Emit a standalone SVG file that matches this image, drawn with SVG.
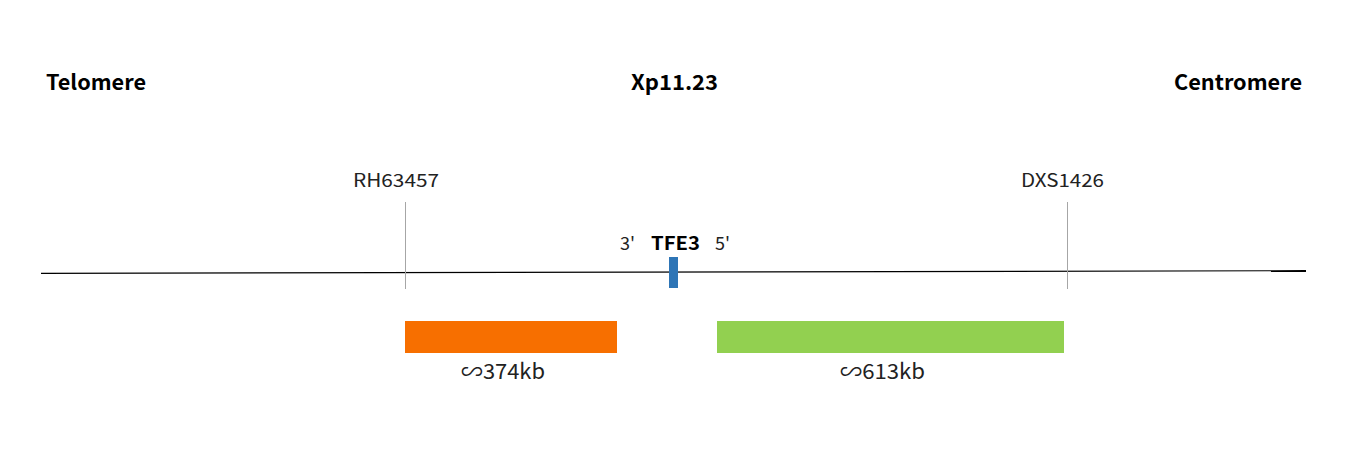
<svg xmlns="http://www.w3.org/2000/svg" width="1350" height="450" viewBox="0 0 1350 450">
<style>
text{font-family:"Noto Sans CJK SC","Noto Sans",sans-serif;fill:#000}
.title{font-size:21px;font-weight:bold}
.marker{font-size:18px;fill:#222}
.size{font-size:21px;fill:#222}
.tick{stroke:#a6a6a6;stroke-width:1}
</style>
<rect width="1350" height="450" fill="#fff"/>
<g id="labels">
<text class="title" x="46" y="90" textLength="100" lengthAdjust="spacingAndGlyphs">Telomere</text>
<text class="title" x="631" y="90" textLength="87" lengthAdjust="spacingAndGlyphs">Xp11.23</text>
<text class="title" x="1174" y="90" textLength="128" lengthAdjust="spacingAndGlyphs">Centromere</text>
</g>
<g id="connectors">
<path d="M41 273.3 L1306 270.7" fill="none" stroke="#000" stroke-width="1.2"/>
<line class="tick" x1="405.5" y1="202" x2="405.5" y2="289"/>
<line class="tick" x1="1067.5" y1="202" x2="1067.5" y2="289"/>
</g>
<g id="RH63457"><text class="marker" x="353" y="187" textLength="86" lengthAdjust="spacingAndGlyphs">RH63457</text></g>
<g id="DXS1426"><text class="marker" x="1021" y="187" textLength="83" lengthAdjust="spacingAndGlyphs">DXS1426</text></g>
<g id="TFE3">
<rect x="669" y="257" width="9" height="31" fill="#2e75b6"/>
<text class="marker" x="620" y="250" textLength="15" lengthAdjust="spacingAndGlyphs">3'</text>
<text x="651" y="250" textLength="49" lengthAdjust="spacingAndGlyphs" style="font-size:19px;font-weight:bold">TFE3</text>
<text class="marker" x="715" y="250" textLength="15" lengthAdjust="spacingAndGlyphs">5'</text>
</g>
<g id="orange">
<rect x="405" y="321" width="212" height="32" fill="#f76f00"/>
<text class="size" x="461" y="379" textLength="84" lengthAdjust="spacingAndGlyphs">∽374kb</text>
</g>
<g id="green">
<rect x="717" y="321" width="347" height="32" fill="#92d050"/>
<text class="size" x="840" y="379" textLength="85" lengthAdjust="spacingAndGlyphs">∽613kb</text>
</g>
</svg>
